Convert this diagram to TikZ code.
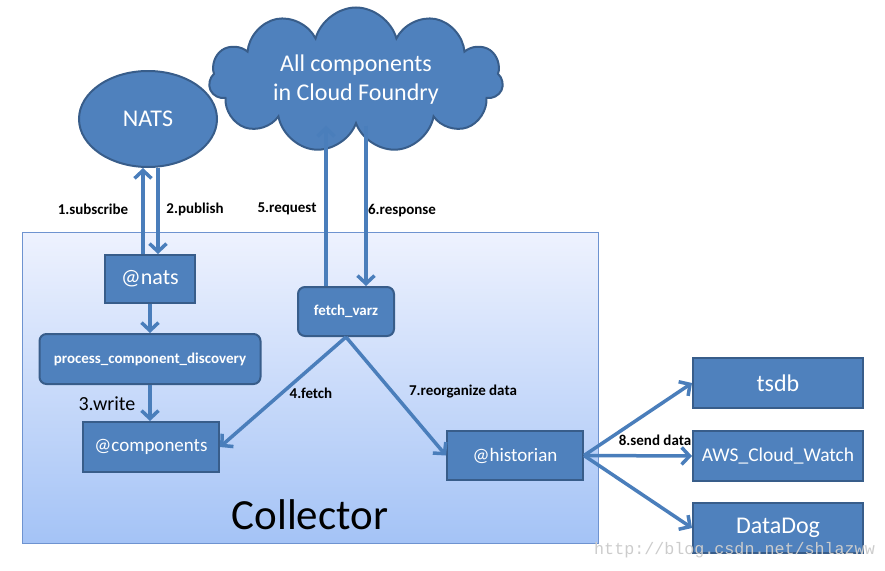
\documentclass[tikz,border=0pt]{standalone}
\usepackage{fontspec}
\setmainfont{Carlito}
\newfontfamily\markfont{Liberation Mono}
\usetikzlibrary{positioning}
\usetikzlibrary{arrows.meta}
\usetikzlibrary{shapes.geometric,shapes.symbols}
\definecolor{boxblue}{RGB}{79,129,189}
\definecolor{boxline}{RGB}{56,93,138}
\definecolor{arrowblue}{RGB}{74,126,187}
\definecolor{panetop}{RGB}{238,242,254}
\definecolor{panebot}{RGB}{164,195,246}
\definecolor{paneline}{RGB}{110,147,208}

\begin{document}
\begin{tikzpicture}
    [x=1pt, y=-1pt,
    block/.style={draw=boxline, fill=boxblue, line width=2pt, text=white, inner sep=0pt},
    rblock/.style={block, rounded corners=7pt},
    bigtext/.style={font=\fontsize{24}{29}\selectfont},
    midtext/.style={font=\fontsize{19}{23}\selectfont},
    boldtext/.style={font=\bfseries\fontsize{15}{18}\selectfont},
    lbl/.style={boldtext, inner sep=0pt},
    arr/.style={draw=arrowblue, line width=3.5pt, -{Straight Barb[length=8pt,width=17pt]}}]
     \useasboundingbox (0,0) rectangle (885,570);
     %\draw[step=50,gray,very thin] (0,0) grid (885,570);
     \node[draw=paneline, line width=1pt, top color=panetop, bottom color=panebot,
           minimum width=576pt, minimum height=311pt, inner sep=0pt] (collector) at (310,387.5) {};
     \node[font=\fontsize{43}{48}\selectfont] (collectorname) at (310,515) {Collector};
     \node[block, ellipse, bigtext, minimum width=138pt, minimum height=96pt] (nats) at (148,119) {NATS};
     \node[block, cloud, cloud puffs=11, cloud ignores aspect, bigtext, align=center,
           minimum width=294pt, minimum height=145pt] (cloud) at (356,80) {All components\\in Cloud Foundry};
     \node[block, font=\fontsize{22}{26}\selectfont, minimum width=90pt, minimum height=48pt] (atnats) at (150,279) {@nats};
     \node[rblock, boldtext, minimum width=221pt, minimum height=50pt] (discovery) at (150,359) {process\_component\_discovery};
     \node[block, midtext, minimum width=136pt, minimum height=50pt] (components) at (151,447) {@components};
     \node[rblock, boldtext, minimum width=96pt, minimum height=49pt] (varz) at (346,311.5) {fetch\_varz};
     \node[block, midtext, minimum width=136pt, minimum height=49pt] (historian) at (515,455.5) {@historian};
     \node[block, bigtext, minimum width=170pt, minimum height=50pt] (tsdb) at (778,383) {tsdb};
     \node[block, font=\fontsize{19.5}{23}\selectfont, minimum width=170pt, minimum height=50pt] (aws) at (778,456) {AWS\_Cloud\_Watch};
     \node[block, bigtext, minimum width=170pt, minimum height=50pt] (datadog) at (778,528) {DataDog};
     \node[lbl] (subscribe) at (93,209)  {1.subscribe};
     \node[lbl] (publish)   at (195,209) {2.publish};
     \node[font=\fontsize{20}{24}\selectfont, inner sep=0pt] (write) at (107,404) {3.write};
     \node[lbl] (fetch)     at (311,393) {4.fetch};
     \node[lbl] (request)   at (287,209) {5.request};
     \node[lbl] (response)  at (402,211) {6.response};
     \node[lbl] (reorg)     at (463,392) {7.reorganize data};
     \node[lbl] (send)      at (655,440) {8.send data};
     \draw[arr] ([xshift=-7pt]atnats.north) -- ([xshift=-7pt]atnats.north |- nats.south);
     \draw[arr] ([xshift=8pt]atnats.north |- nats.south) -- ([xshift=8pt]atnats.north);
     \draw[arr] ([xshift=-20pt]varz.north) -- ([xshift=-20pt]varz.north |- cloud.south);
     \draw[arr] ([xshift=20pt]varz.north |- cloud.south) -- ([xshift=20pt]varz.north);
     \draw[arr] (atnats.south) -- (discovery.north);
     \draw[arr] (discovery.south) -- (discovery.south |- components.north);
     \draw[arr] (varz.south) -- (components.east);
     \draw[arr] (varz.south) -- (historian.west);
     \draw[arr] (historian.east) -- (tsdb.west);
     \draw[arr] (historian.east) -- (aws.west);
     \draw[arr] (historian.east) -- (datadog.west);
     \node[text=gray!40, font=\markfont\fontsize{16.7}{20}\selectfont, anchor=west, inner sep=0pt] (mark) at (594,550) {http://blog.csdn.net/shlazww};
\end{tikzpicture}
\end{document}
